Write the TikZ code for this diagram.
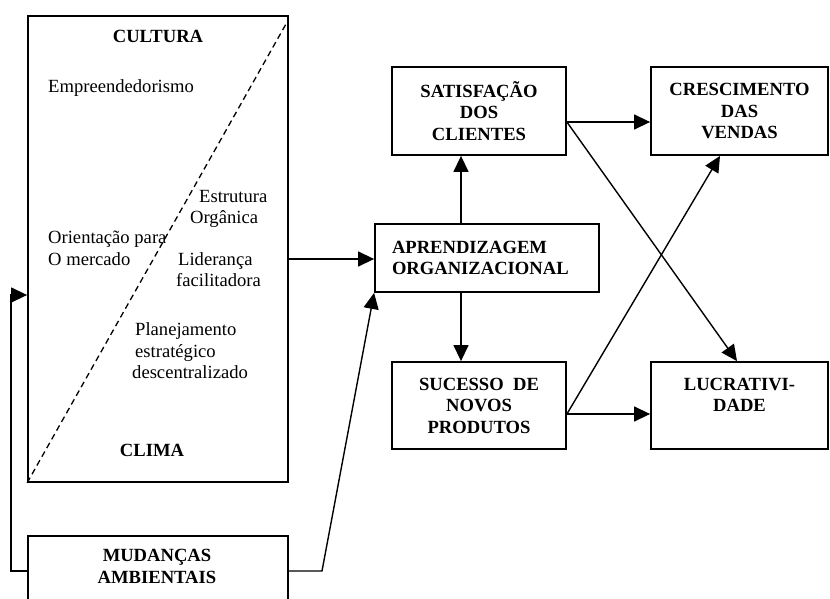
\documentclass[tikz,border=0pt]{standalone}
\usepackage{fontspec}
\setmainfont{Liberation Serif}
\usetikzlibrary{arrows.meta}
\begin{document}
\begin{tikzpicture}[x=1pt,y=-1pt,
  box/.style={draw, line width=1.8pt, inner sep=0pt, align=center, font=\bfseries\fontsize{18.6}{21.5}\selectfont},
  txt/.style={inner sep=0pt, anchor=base west, font=\fontsize{18.6}{21.5}\selectfont},
  btxt/.style={inner sep=0pt, anchor=base, font=\bfseries\fontsize{18.6}{21.5}\selectfont},
  arr/.style={line width=1.4pt, -{Triangle[length=16pt,width=15pt]}},
  dashline/.style={dash pattern=on 6pt off 4pt, line width=1.3pt}]
\useasboundingbox (0,0) rectangle (830,599);
\clip (0,0) rectangle (830,599);
% big box
\node[box, minimum width=260pt, minimum height=466pt] (big) at (158,249) {};
\coordinate (dtop) at (286,24);
\draw[dashline] (big.south west) -- (dtop);
\node[btxt] (cultura) at (158,43) {CULTURA};
\node[txt] (empr) at (48,93) {Empreendedorismo};
\node[txt] (estr1) at (199,202) {Estrutura};
\node[txt] (estr2) at (190,223) {Orgânica};
\node[txt] (ori1) at (48,243) {Orientação para};
\node[txt] (ori2) at (48,265) {O mercado};
\node[txt] (lid1) at (178,265) {Liderança};
\node[txt] (lid2) at (176,286) {facilitadora};
\node[txt] (pla1) at (135,335) {Planejamento};
\node[txt] (pla2) at (135,357) {estratégico};
\node[txt] (pla3) at (132,378) {descentralizado};
\node[btxt] (clima) at (152,456) {CLIMA};
% mudancas
\node[box, minimum width=260pt, minimum height=80pt] (mud) at (158,576) {};
\node[btxt] (mud1) at (157,561) {MUDANÇAS};
\node[btxt] (mud2) at (157,583) {AMBIENTAIS};
% right boxes
\node[box, text width=190pt, inner xsep=17pt, align=left, minimum height=68pt] (aprend) at (487,258) {APRENDIZAGEM\\ORGANIZACIONAL};
\node[box, minimum width=174pt, minimum height=88pt] (satis) at (479,111) {SATISFAÇÃO\\DOS\\CLIENTES};
\node[box, minimum width=177pt, minimum height=88pt] (cresc) at (739.5,111) {CRESCIMENTO\\DAS\\VENDAS};
\node[box, minimum width=174pt, minimum height=87pt] (suc) at (479,405.5) {SUCESSO\ \ DE\\NOVOS\\PRODUTOS};
\node[box, minimum width=177pt, minimum height=87pt] (lucr) at (739.5,405.5) {LUCRATIVI-\\DADE\\\mbox{}};
% connectors
\coordinate (fb) at (11,571);
\coordinate (fb2) at (11,295);
\draw[arr] (mud.west |- fb) -- (fb) -- (fb2) -- (big.west |- fb2);
\coordinate (mk) at (322,571);
\draw[arr] (mud.east |- mk) -- (mk) -- (aprend.south west);
\coordinate (ya) at (0,259);
\draw[arr] (big.east |- ya) -- (aprend.west |- ya);
\coordinate (xv) at (461,0);
\draw[arr] (aprend.north -| xv) -- (satis.south -| xv);
\draw[arr] (aprend.south -| xv) -- (suc.north -| xv);
\coordinate (ys) at (0,122);
\draw[arr] (satis.east |- ys) -- (cresc.west |- ys);
\coordinate (yu) at (0,414);
\draw[arr] (suc.east |- yu) -- (lucr.west |- yu);
\coordinate (xl) at (737,0);
\draw[arr] (satis.east |- ys) -- (lucr.north -| xl);
\coordinate (xc) at (720,0);
\draw[arr] (suc.east |- yu) -- (cresc.south -| xc);
\end{tikzpicture}
\end{document}
